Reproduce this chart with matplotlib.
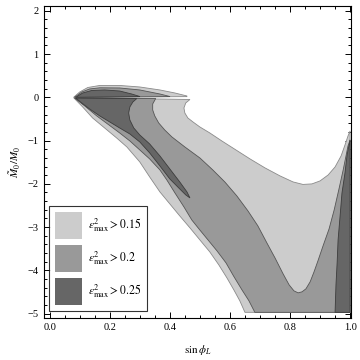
"""
Vùng epsilon^2_max trong mặt phẳng (sin phi_L, M~0/M0) - 3 mức ngưỡng.
"""
import matplotlib
matplotlib.use("Agg")
import matplotlib.pyplot as plt
from matplotlib.patches import Patch

plt.rcParams["font.family"] = ["Liberation Serif", "DejaVu Serif"]
plt.rcParams["mathtext.fontset"] = "stix"

# --- data: đường biên (x = sin phi_L, y = M~0/M0) ---
levels = ["0.15", "0.2", "0.25"]
colors = ["#cccccc", "#999999", "#666666"]
edges = ["#8a8a8a", "#555555", "#3c3c3c"]

# thùy trên (y > 0), biên trên từ mũi nhọn sang phải
lobe_light_x = [0.080, 0.100, 0.127, 0.167, 0.233, 0.300, 0.367, 0.417, 0.457, 0.457]
lobe_light_y = [0.000, 0.122, 0.226, 0.273, 0.273, 0.238, 0.169, 0.099, 0.030, 0.015]
lobe_mid_x = [0.083, 0.107, 0.133, 0.167, 0.233, 0.300, 0.367, 0.400, 0.400]
lobe_mid_y = [0.000, 0.122, 0.192, 0.219, 0.215, 0.169, 0.076, 0.018, 0.015]
lobe_dark_x = [0.087, 0.110, 0.140, 0.183, 0.233, 0.273, 0.300, 0.300]
lobe_dark_y = [0.000, 0.099, 0.157, 0.169, 0.145, 0.076, 0.018, 0.015]

# vùng chính (y < 0) > 0.15 : mép trên, biên lỗ trắng, mép phải, đáy, mép ngoài trái
main_light_x = [0.080, 0.467, 0.453, 0.447, 0.450, 0.460, 0.477, 0.500, 0.533, 0.573,
                0.620, 0.667, 0.717, 0.767, 0.810, 0.843, 0.873, 0.900, 0.927, 0.950,
                0.970, 0.983, 0.993, 1.000, 1.000,
                0.650, 0.633, 0.613, 0.590, 0.563, 0.533, 0.500, 0.467, 0.433, 0.400,
                0.367, 0.333, 0.300, 0.257, 0.223, 0.183, 0.143, 0.110]
main_light_y = [-0.010, -0.051, -0.132, -0.247, -0.363, -0.478, -0.570, -0.686, -0.824, -1.009,
                -1.217, -1.425, -1.633, -1.818, -1.956, -2.014, -2.002, -1.933, -1.795, -1.610,
                -1.356, -1.102, -0.894, -0.778, -4.970,
                -4.970, -4.704, -4.450, -4.173, -3.873, -3.573, -3.296, -3.018, -2.741, -2.464,
                -2.187, -1.841, -1.494, -1.148, -0.940, -0.709, -0.478, -0.224]

# > 0.2 : mép trên, biên với vùng sáng (chữ V), mép phải, đáy, mép ngoài trái
main_mid_x = [0.083, 0.353, 0.343, 0.343, 0.350, 0.363, 0.383, 0.407, 0.450, 0.500,
              0.543, 0.583, 0.623, 0.660, 0.693, 0.723, 0.750, 0.777, 0.797, 0.813,
              0.827, 0.840, 0.853, 0.867, 0.880, 0.893, 0.910, 0.930, 0.947, 0.963,
              0.977, 0.987, 0.993, 1.000, 1.000,
              0.683, 0.663, 0.640, 0.613, 0.587, 0.557, 0.527, 0.497, 0.473, 0.447,
              0.417, 0.390, 0.367, 0.333, 0.300, 0.267, 0.233, 0.193, 0.157, 0.117]
main_mid_y = [-0.020, -0.028, -0.155, -0.293, -0.432, -0.594, -0.755, -0.917, -1.148, -1.402,
              -1.679, -1.956, -2.279, -2.626, -2.972, -3.365, -3.711, -4.081, -4.335, -4.473,
              -4.520, -4.496, -4.427, -4.265, -4.034, -3.780, -3.434, -3.042, -2.603, -2.118,
              -1.679, -1.333, -1.125, -0.986, -4.970,
              -4.970, -4.700, -4.450, -4.141, -3.827, -3.550, -3.296, -3.042, -2.834, -2.534,
              -2.210, -1.910, -1.679, -1.425, -1.217, -1.009, -0.824, -0.617, -0.432, -0.201]

# > 0.25 : dải hẹp bên trái và dải sát sin phi_L = 1
main_dark_x = [0.087, 0.290, 0.277, 0.267, 0.263, 0.267, 0.280, 0.300, 0.333, 0.367,
               0.400, 0.433, 0.457, 0.467,
               0.453, 0.433, 0.400, 0.367, 0.333, 0.300, 0.267, 0.233, 0.200, 0.167,
               0.133, 0.107]
main_dark_y = [-0.020, -0.030, -0.109, -0.224, -0.363, -0.524, -0.709, -0.871, -1.079, -1.356,
               -1.656, -1.956, -2.187, -2.326,
               -2.256, -2.118, -1.887, -1.587, -1.286, -1.032, -0.848, -0.709, -0.570, -0.432,
               -0.270, -0.132]
strip_dark_x = [1.000, 0.990, 0.983, 0.973, 0.967, 0.960, 0.957, 0.953, 0.950, 1.000]
strip_dark_y = [-0.986, -1.333, -1.748, -2.210, -2.718, -3.296, -3.804, -4.335, -4.970, -4.970]


def draw_region(ax, xs, ys, i):
    ax.fill(xs, ys, facecolor=colors[i], edgecolor=edges[i], lw=0.6, zorder=2 + i)


def main():
    fig = plt.figure(figsize=(3.6, 3.6), dpi=100)
    ax = fig.add_axes([0.122, 0.118, 0.853, 0.866])

    draw_region(ax, main_light_x, main_light_y, 0)
    draw_region(ax, lobe_light_x, lobe_light_y, 0)
    draw_region(ax, main_mid_x, main_mid_y, 1)
    draw_region(ax, lobe_mid_x, lobe_mid_y, 1)
    draw_region(ax, main_dark_x, main_dark_y, 2)
    draw_region(ax, lobe_dark_x, lobe_dark_y, 2)
    draw_region(ax, strip_dark_x, strip_dark_y, 2)

    ax.set_xlim(-0.019, 1.003)
    ax.set_ylim(-5.09, 2.115)
    ax.set_xticks([0.0, 0.2, 0.4, 0.6, 0.8, 1.0])
    ax.set_xticklabels(["0.0", "0.2", "0.4", "0.6", "0.8", "1.0"])
    ax.set_xticks([i * 0.05 for i in range(21)], minor=True)
    ax.set_yticks(range(-5, 3))
    ax.set_yticks([-5 + i * 0.2 for i in range(36)], minor=True)
    ax.tick_params(which="both", direction="in", top=True, right=True,
                   labelsize=7.5, width=0.7, pad=4)
    ax.tick_params(which="major", length=4.5)
    ax.tick_params(which="minor", length=2.5)
    for s in ax.spines.values():
        s.set_linewidth(0.8)

    ax.set_xlabel(r"$\sin\phi_L$", fontsize=8, labelpad=8)
    ax.set_ylabel(r"$\tilde{M}_0/M_0$", fontsize=8, labelpad=3)

    handles = [Patch(facecolor=c, edgecolor="none") for c in colors]
    labels = [r"$\epsilon^2_{\max} > %s$" % lv for lv in levels]
    leg = ax.legend(handles, labels, loc="lower left", bbox_to_anchor=(0.016, 0.021),
                    fontsize=8.5, frameon=True, fancybox=False, borderpad=0.5,
                    handlelength=2.29, handleheight=3.15, handletextpad=0.5,
                    labelspacing=0.5, borderaxespad=0)
    leg.get_frame().set_edgecolor("black")
    leg.get_frame().set_linewidth(0.8)
    leg.set_zorder(10)

    fig.savefig("out.png", dpi=100)


if __name__ == "__main__":
    main()
